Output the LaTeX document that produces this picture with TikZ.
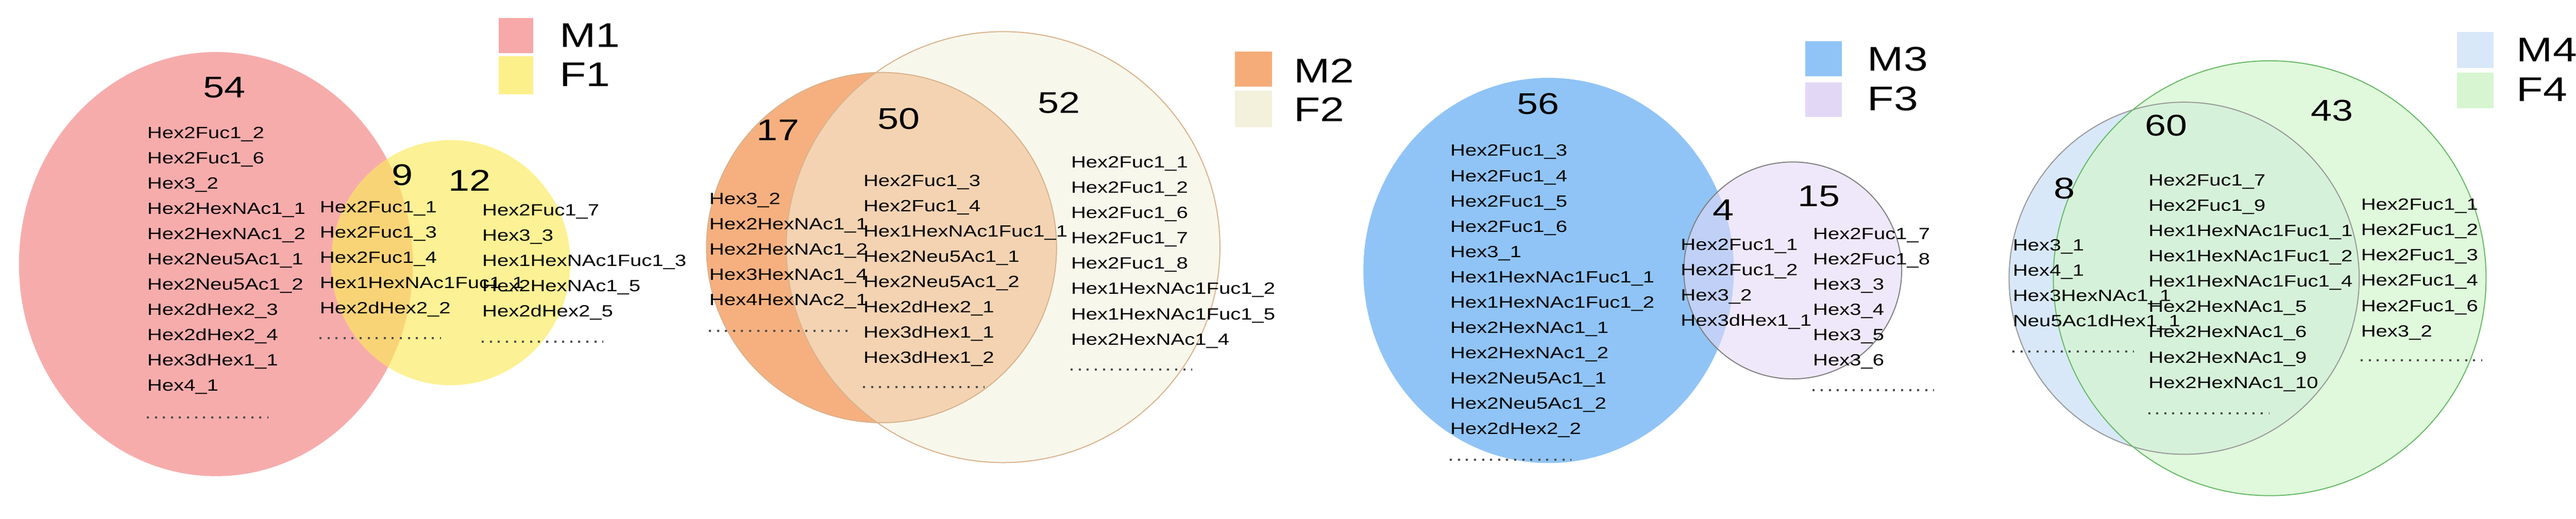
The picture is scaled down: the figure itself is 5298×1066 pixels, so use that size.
\documentclass[tikz,border=0pt]{standalone}
\usepackage{fontspec}
\setmainfont{Liberation Sans}
\definecolor{cM1}{HTML}{F7A8A8}
\definecolor{cF1}{HTML}{FBEA5A}
\definecolor{cM2}{HTML}{F5AC78}
\definecolor{cF2}{HTML}{F3F1DC}
\definecolor{cM3}{HTML}{90C4F6}
\definecolor{cF3}{HTML}{E2D8F6}
\definecolor{cM4}{HTML}{D8E8F8}
\definecolor{cF4}{HTML}{D6F5D0}
\tikzset{
 lbl/.style={font=\fontsize{9.5}{11}\selectfont, inner sep=0pt, anchor=base west, xscale=1.27, transform shape},
 num/.style={font=\fontsize{17.5}{20}\selectfont, inner sep=0pt, xscale=1.27, transform shape},
 leg/.style={font=\fontsize{20}{24}\selectfont, inner sep=0pt, anchor=west, xscale=1.27, transform shape},
 dotl/.style={line width=1.2pt, dash pattern=on 1.2pt off 3.5pt, black!70},
}
\newcommand{\mylist}[4]{%
 \foreach \t [count=\i] in {#4} {\node[lbl] (#1-\i) at ({#2},{#3+12+(\i-1)*52}) {\t};}}
\begin{document}
\begin{tikzpicture}[x=0.01cm,y=-0.01cm]
\useasboundingbox (0,0) rectangle (5298,1066);
% ---------- panel 1
\fill[cM1, opacity=0.95] (444,543) ellipse [x radius=405, y radius=436];
\fill[cF1, opacity=0.65] (927,540) ellipse [x radius=246, y radius=252];
\fill[cM1] (1026,37) rectangle (1097,109);
\fill[cF1!70] (1026,116) rectangle (1097,194);
\node[leg] (lM1) at (1150,73) {M1};
\node[leg] (lF1) at (1150,153) {F1};
\node[num] (n54) at (461,180) {54};
\node[num] (n9) at (828,360) {9};
\node[num] (n12) at (966,371) {12};
\mylist{a1}{302}{272}{Hex2Fuc1\_2,Hex2Fuc1\_6,Hex3\_2,Hex2HexNAc1\_1,Hex2HexNAc1\_2,Hex2Neu5Ac1\_1,Hex2Neu5Ac1\_2,Hex2dHex2\_3,Hex2dHex2\_4,Hex3dHex1\_1,Hex4\_1}
\draw[dotl] (302,858) -- (552,858);
\mylist{b1}{657}{425}{Hex2Fuc1\_1,Hex2Fuc1\_3,Hex2Fuc1\_4,Hex1HexNAc1Fuc1\_1,Hex2dHex2\_2}
\draw[dotl] (657,695) -- (907,695);
\mylist{c1}{991}{431}{Hex2Fuc1\_7,Hex3\_3,Hex1HexNAc1Fuc1\_3,Hex2HexNAc1\_5,Hex2dHex2\_5}
\draw[dotl] (991,703) -- (1241,703);
% ---------- panel 2
\fill[cM2, opacity=0.95] (1813,509) ellipse [x radius=360, y radius=360];
\fill[cF2, opacity=0.55] (2063,508) ellipse [x radius=446, y radius=443];
\draw[brown!60, line width=0.6pt] (1813,509) ellipse [x radius=360, y radius=360];
\draw[brown!60, line width=0.6pt] (2063,508) ellipse [x radius=446, y radius=443];
\fill[cM2] (2540,106) rectangle (2616,178);
\fill[cF2] (2540,187) rectangle (2616,262);
\node[leg] (lM2) at (2660,145) {M2};
\node[leg] (lF2) at (2660,225) {F2};
\node[num] (n17) at (1600,268) {17};
\node[num] (n50) at (1848,244) {50};
\node[num] (n52) at (2178,211) {52};
\mylist{a2}{1458}{408}{Hex3\_2,Hex2HexNAc1\_1,Hex2HexNAc1\_2,Hex3HexNAc1\_4,Hex4HexNAc2\_1}
\draw[dotl] (1458,680) -- (1748,680);
\mylist{b2}{1775}{371}{Hex2Fuc1\_3,Hex2Fuc1\_4,Hex1HexNAc1Fuc1\_1,Hex2Neu5Ac1\_1,Hex2Neu5Ac1\_2,Hex2dHex2\_1,Hex3dHex1\_1,Hex3dHex1\_2}
\draw[dotl] (1775,796) -- (2025,796);
\mylist{c2}{2202}{333}{Hex2Fuc1\_1,Hex2Fuc1\_2,Hex2Fuc1\_6,Hex2Fuc1\_7,Hex2Fuc1\_8,Hex1HexNAc1Fuc1\_2,Hex1HexNAc1Fuc1\_5,Hex2HexNAc1\_4}
\draw[dotl] (2202,760) -- (2452,760);
% ---------- panel 3
\fill[cM3] (3185,556) ellipse [x radius=381, y radius=396];
\fill[cF3, opacity=0.6] (3687,556) ellipse [x radius=224, y radius=223];
\draw[gray, line width=0.6pt] (3687,556) ellipse [x radius=224, y radius=223];
\fill[cM3] (3713,85) rectangle (3788,157);
\fill[cF3] (3713,169) rectangle (3788,241);
\node[leg] (lM3) at (3840,121) {M3};
\node[leg] (lF3) at (3840,203) {F3};
\node[num] (n56) at (3163,214) {56};
\node[num] (n4) at (3544,432) {4};
\node[num] (n15) at (3741,404) {15};
\mylist{a3}{2982}{309}{Hex2Fuc1\_3,Hex2Fuc1\_4,Hex2Fuc1\_5,Hex2Fuc1\_6,Hex3\_1,Hex1HexNAc1Fuc1\_1,Hex1HexNAc1Fuc1\_2,Hex2HexNAc1\_1,Hex2HexNAc1\_2,Hex2Neu5Ac1\_1,Hex2Neu5Ac1\_2,Hex2dHex2\_2}
\draw[dotl] (2982,945) -- (3232,945);
\mylist{b3}{3456}{502}{Hex2Fuc1\_1,Hex2Fuc1\_2,Hex3\_2,Hex3dHex1\_1}
\mylist{c3}{3728}{480}{Hex2Fuc1\_7,Hex2Fuc1\_8,Hex3\_3,Hex3\_4,Hex3\_5,Hex3\_6}
\draw[dotl] (3728,802) -- (3978,802);
% ---------- panel 4
\fill[cM4] (4492,572) ellipse [x radius=360, y radius=362];
\fill[cF4, opacity=0.75] (4668,572) ellipse [x radius=445, y radius=447];
\draw[gray!80, line width=0.6pt] (4492,572) ellipse [x radius=360, y radius=362];
\draw[green!55!black!60, line width=0.6pt] (4668,572) ellipse [x radius=445, y radius=447];
\fill[cM4] (5053,66) rectangle (5128,140);
\fill[cF4] (5053,149) rectangle (5128,223);
\node[leg] (lM4) at (5175,102) {M4};
\node[leg] (lF4) at (5175,184) {F4};
\node[num] (n60) at (4455,258) {60};
\node[num] (n43) at (4796,227) {43};
\node[num] (n8) at (4246,387) {8};
\mylist{a4}{4139}{503}{Hex3\_1,Hex4\_1,Hex3HexNAc1\_1,Neu5Ac1dHex1\_1}
\draw[dotl] (4139,723) -- (4389,723);
\mylist{b4}{4418}{370}{Hex2Fuc1\_7,Hex2Fuc1\_9,Hex1HexNAc1Fuc1\_1,Hex1HexNAc1Fuc1\_2,Hex1HexNAc1Fuc1\_4,Hex2HexNAc1\_5,Hex2HexNAc1\_6,Hex2HexNAc1\_9,Hex2HexNAc1\_10}
\draw[dotl] (4418,850) -- (4668,850);
\mylist{c4}{4855}{420}{Hex2Fuc1\_1,Hex2Fuc1\_2,Hex2Fuc1\_3,Hex2Fuc1\_4,Hex2Fuc1\_6,Hex3\_2}
\draw[dotl] (4855,741) -- (5105,741);
\end{tikzpicture}
\end{document}
